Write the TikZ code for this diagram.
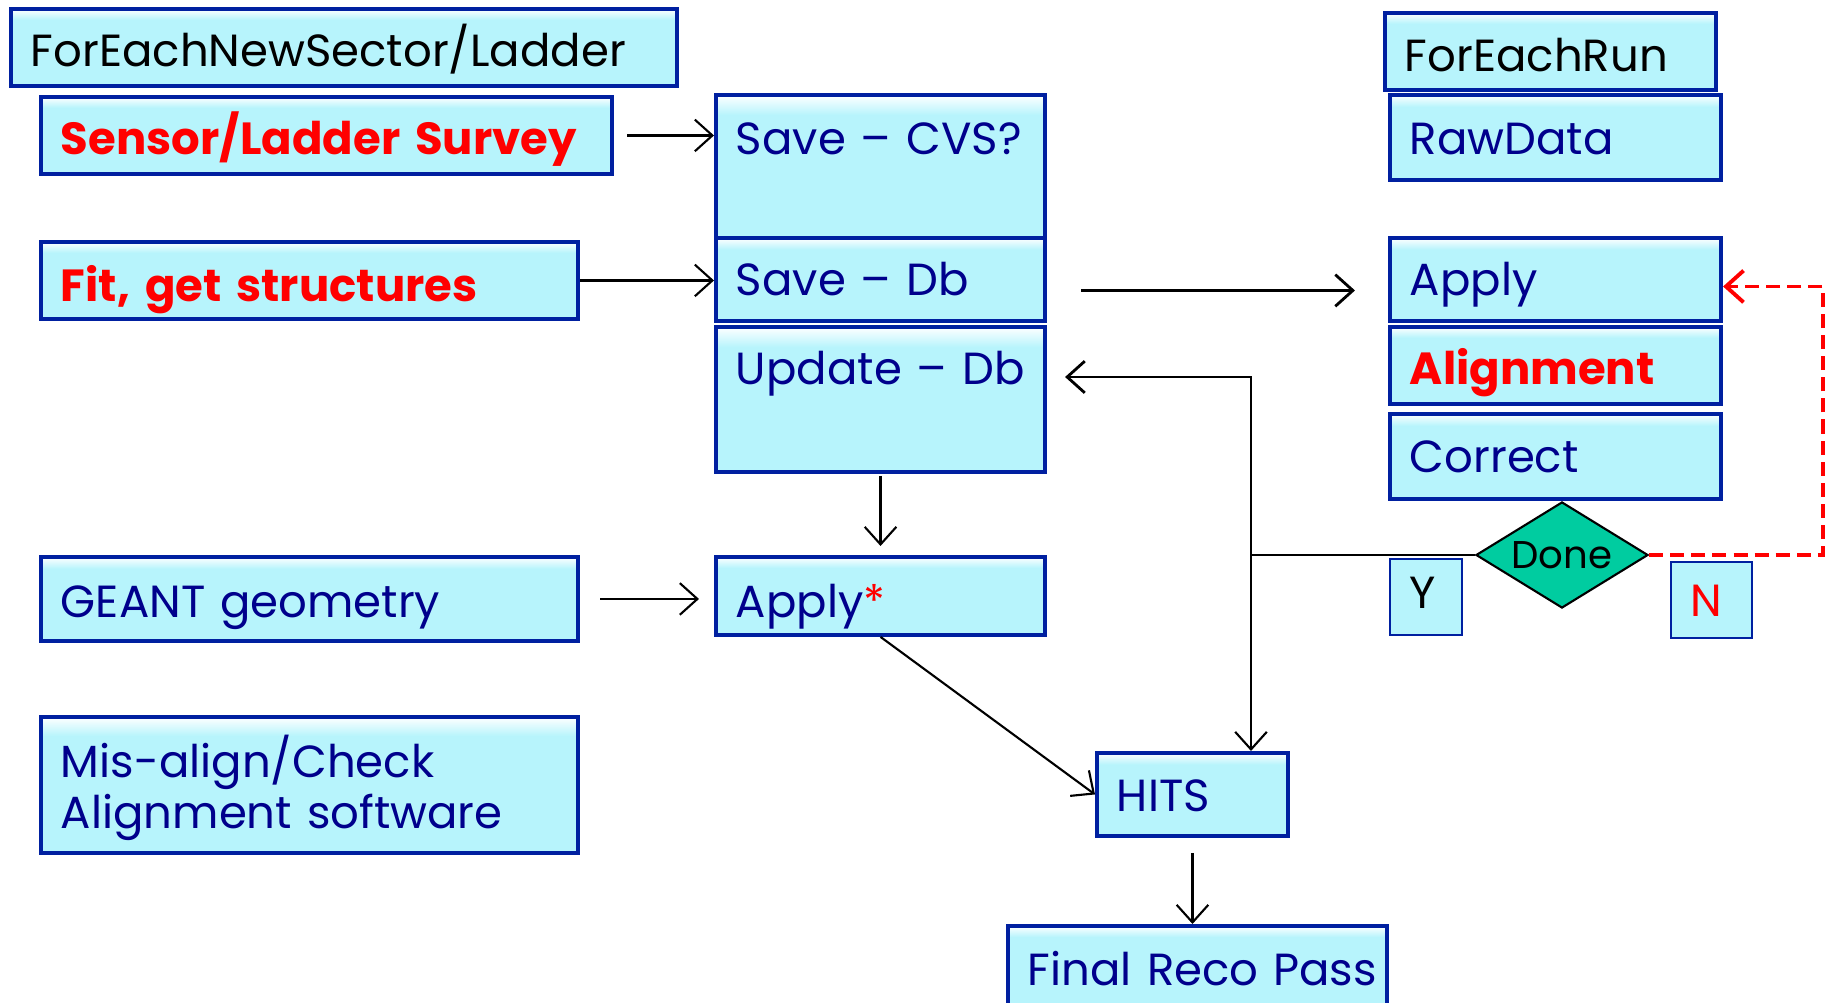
\documentclass[tikz,border=0pt]{standalone}
\usepackage{fontspec}
\setmainfont{Poppins}[WordSpace=0.7]
\usepackage{tikz}
\usetikzlibrary{arrows.meta,shapes.geometric,positioning}
\definecolor{boxblue}{RGB}{0,32,160}
\definecolor{boxcyan}{RGB}{183,244,252}
\definecolor{txtblue}{RGB}{0,0,140}
\definecolor{donegreen}{RGB}{0,204,160}
\pgfdeclareverticalshading{boxfill}{100bp}{color(0bp)=(boxcyan); color(25bp)=(boxcyan); color(68bp)=(boxcyan); color(75bp)=(white); color(100bp)=(white)}

\begin{document}
\begin{tikzpicture}[x=0.01cm,y=-0.01cm,>={Straight Barb[length=5pt,width=9pt]},
                font=\fontsize{12.8}{14.5}\selectfont]
        \tikzstyle{blk}=[rectangle,draw=boxblue,line width=1.1pt,shading=boxfill,anchor=north west,
                inner xsep=0.2cm,inner ysep=0pt,align=left,text=txtblue]
        \tikzstyle{tag}=[rectangle,draw=boxblue,line width=0.5pt,fill=boxcyan,anchor=north west,
                inner xsep=0.2cm,inner ysep=0pt,align=left,text=black]
        \tikzstyle{hot}=[text=red,font=\fontsize{12.8}{14.5}\selectfont\bfseries]
        \tikzstyle{flow}=[->,black,line width=0.6pt]

        \useasboundingbox (0,0) rectangle (1832,1003);

        \node[blk,text=black,text width=6.26cm,text height=0.58cm,text depth=0.19cm] (FE_s) at (9,7) {ForEachNewSector/Ladder};
        \node[blk,hot,text width=5.31cm,text height=0.58cm,text depth=0.19cm] (Survey) at (39,95) {Sensor/Ladder~Survey};
        \node[blk,hot,text width=4.97cm,text height=0.60cm,text depth=0.17cm] (Fit) at (39,240) {Fit, get structures};
        \node[blk,text width=4.97cm,text height=0.61cm,text depth=0.23cm] (Geant) at (39,555) {GEANT geometry};
        \node[blk,text width=4.97cm,text height=0.61cm,text depth=0.75cm] (Mis) at (39,715) {Mis-align/Check\\Alignment software};

        \node[blk,text width=2.89cm,text height=0.60cm,text depth=0.83cm] (Save_c) at (714,93) {Save~--~CVS?};
        \node[blk,text width=2.89cm,text height=0.58cm,text depth=0.25cm] (Save_d) at (714,236) {Save~--~Db};
        \node[blk,text width=2.89cm,text height=0.58cm,text depth=0.87cm] (Upd) at (714,325) {Update~--~Db};
        \node[blk,text width=2.89cm,text height=0.61cm,text depth=0.17cm] (App_s) at (714,555) {Apply{\color{red}*}};
        \node[blk,text width=1.51cm,text height=0.59cm,text depth=0.24cm] (Hits) at (1095,751) {HITS};
        \node[blk,text width=3.39cm,text height=0.60cm,text depth=0.19cm] (Reco) at (1006,924) {Final~Reco~Pass};

        \node[blk,text=black,text width=2.91cm,text height=0.59cm,text depth=0.18cm] (FE_r) at (1383,11) {ForEachRun};
        \node[blk,text width=2.91cm,text height=0.60cm,text depth=0.25cm] (Raw) at (1388,93) {RawData};
        \node[blk,text width=2.91cm,text height=0.58cm,text depth=0.25cm] (App_r) at (1388,236) {Apply};
        \node[blk,hot,text width=2.91cm,text height=0.58cm,text depth=0.19cm] (Align) at (1388,325) {Alignment};
        \node[blk,text width=2.91cm,text height=0.59cm,text depth=0.26cm] (Corr) at (1388,412) {Correct};

        \node[diamond,aspect=1.6,draw=black,fill=donegreen,line width=0.6pt,minimum width=1.72cm,minimum height=1.06cm,
                inner sep=0pt,font=\fontsize{11}{13}\selectfont] (Done) at (1562,555) {Done};
        \node[tag,text width=0.32cm,text height=0.50cm,text depth=0.26cm] (Y) at (1389,558) {Y};
        \node[tag,text=red,text width=0.41cm,text height=0.55cm,text depth=0.21cm] (N) at (1670,561) {N};

        \draw[flow,shorten <=0.13cm] (Survey.east) -- (Survey.east -| Save_c.west);
        \draw[flow] (Fit.east) -- (Fit.east -| Save_d.west);
        \coordinate (sd) at ([yshift=-0.11cm]Save_d.east);
        \draw[flow,line width=0.8pt,shorten <=0.34cm,shorten >=0.33cm] (sd) -- (sd -| App_r.west);
        \draw[flow,shorten <=0.02cm,shorten >=0.09cm] (Upd.south) -- (App_s.north);
        \draw[flow,shorten <=0.2cm,shorten >=0.15cm] (Geant.east) -- (Geant.east -| App_s.west);
        \draw[flow] (App_s.south) -- (Hits.west);
        \draw[flow,shorten <=0.15cm] (Hits.south) -- (Hits.south |- Reco.north);

        \coordinate (jn) at (1251,555);
        \coordinate (jt) at (1251,377);
        \draw[line width=0.6pt] (Done.west) -- (jn);
        \draw[flow,line width=0.8pt,shorten >=0.18cm] (jn) -- (jt) -- (jt -| Upd.east);
        \draw[flow] (jn) -- (jn |- Hits.north);
        \coordinate (nc) at (1823,555);
        \draw[->,red,line width=1.1pt,dash pattern=on 4pt off 2pt] (Done.east) -- (nc) |- ([yshift=-0.07cm]App_r.east);

        \end{tikzpicture}
\end{document}
